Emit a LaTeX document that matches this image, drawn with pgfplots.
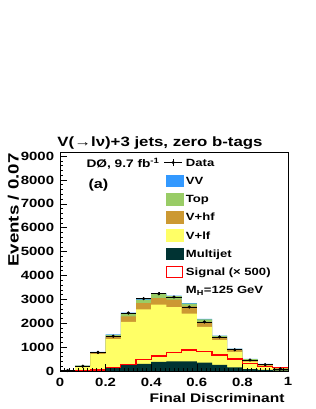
\documentclass[border=0pt]{standalone}
\usepackage{fontspec}
\setmainfont{Liberation Sans}[FakeStretch=1.25]
\usepackage{pgfplots}
\usepackage{pgfplotstable}
\pgfplotsset{compat=1.18}
\definecolor{vvblue}{HTML}{3399FF}
\definecolor{topgreen}{HTML}{99CC66}
\definecolor{hfbrown}{HTML}{CC9933}
\definecolor{lfyellow}{HTML}{FFFF66}
\definecolor{mjdark}{HTML}{003333}

\pgfplotstableread{
x mj lf hf top vv sig
0.000000 5 13 2 2 1 3
0.066667 10 180 20 15 5 10
0.133333 30 678 52 30 10 45
0.200000 120 1213 125 56 16 140
0.266667 250 1805 235 113 37 280
0.333333 300 2283 264 139 34 487
0.400000 380 2398 277 181 24 630
0.466667 400 2280 306 153 21 770
0.533333 400 2003 300 116 21 875
0.600000 350 1497 208 112 18 830
0.666667 260 1032 111 69 13 667
0.733333 150 656 69 55 10 500
0.800000 80 309 55 56 5 320
0.866667 50 172 28 40 5 195
0.933333 30 53 28 28 3 145
1.000000 30 53 28 28 3 145
}\bins

\pgfplotstableread{
x y ex ey
0.033333 20 0.033333 5
0.100000 200 0.033333 14
0.166667 780 0.033333 28
0.233333 1460 0.033333 38
0.300000 2430 0.033333 49
0.366667 3030 0.033333 55
0.433333 3235 0.033333 57
0.500000 3100 0.033333 56
0.566667 2680 0.033333 52
0.633333 2055 0.033333 45
0.700000 1430 0.033333 38
0.766667 890 0.033333 30
0.833333 460 0.033333 21
0.900000 265 0.033333 16
0.966667 90 0.033333 9
}\datatab

\begin{document}
\begin{tikzpicture}[font=\bfseries]
\path[use as bounding box] (0,0) rectangle (316bp,409bp);
\begin{axis}[
  at={(60bp,38bp)}, anchor=south west,
  scale only axis, width=228bp, height=218.5bp,
  xmin=0, xmax=1, ymin=0, ymax=9150,
  axis on top,
  axis line style={line width=0.7bp, black},
  tick align=inside, tick pos=left,
  major tick length=6.8bp, minor tick length=3.4bp,
  every tick/.style={black, line width=0.6bp},
  xtick={0,0.2,0.4,0.6,0.8,1}, minor x tick num=9,
  ytick={0,1000,2000,3000,4000,5000,6000,7000,8000,9000}, minor y tick num=4,
  scaled x ticks=false, scaled y ticks=false,
  /pgf/number format/assume math mode=true,
  /pgf/number format/1000 sep={},
  tick label style={font=\fontsize{12}{14}\selectfont\bfseries},
  xticklabel style={inner sep=0pt, yshift=-6.5bp},
  yticklabel style={inner sep=0pt, xshift=-5.7bp},
  every axis title/.style={at={(axis description cs:0.4386,1)}, anchor=base, yshift=6.5bp, font=\fontsize{13.5}{15}\selectfont\bfseries},
  title={V(→lν)+3 jets, zero b-tags},
  every axis x label/.style={at={(axis description cs:1,-0.1419)}, anchor=base east, font=\fontsize{12.5}{14}\selectfont\bfseries},
  xlabel={Final Discriminant},
  every axis y label/.style={at={(axis description cs:-0.182,1.0114)}, rotate=90, anchor=base east, font=\fontsize{15}{17}\selectfont\bfseries},
  ylabel={Events / 0.07},
  legend cell align=left,
  legend style={at={(axis description cs:0.456,0.981)}, anchor=north west,
    draw=none, fill=none, inner sep=0pt, outer sep=0pt, row sep=6.2bp,
    font=\fontsize{10.5}{12}\selectfont\bfseries,
    nodes={inner sep=0pt, text height=7.4bp, text depth=0bp},
    /tikz/every odd column/.append style={column sep=2.3bp}},
]
\addplot[fill=vvblue, draw=none, const plot mark left, forget plot]
  table[x=x, y expr=\thisrow{mj}+\thisrow{lf}+\thisrow{hf}+\thisrow{top}+\thisrow{vv}] {\bins} \closedcycle;
\addplot[fill=topgreen, draw=none, const plot mark left, forget plot]
  table[x=x, y expr=\thisrow{mj}+\thisrow{lf}+\thisrow{hf}+\thisrow{top}] {\bins} \closedcycle;
\addplot[fill=hfbrown, draw=none, const plot mark left, forget plot]
  table[x=x, y expr=\thisrow{mj}+\thisrow{lf}+\thisrow{hf}] {\bins} \closedcycle;
\addplot[fill=lfyellow, draw=none, const plot mark left, forget plot]
  table[x=x, y expr=\thisrow{mj}+\thisrow{lf}] {\bins} \closedcycle;
\addplot[fill=mjdark, draw=none, const plot mark left, forget plot]
  table[x=x, y=mj] {\bins} \closedcycle;
\addplot[red, line width=1.3bp, const plot mark left, forget plot]
  table[x=x, y=sig] {\bins};
\addplot[black, only marks, mark=*, mark size=1.4bp, forget plot,
  error bars/.cd, x dir=both, x explicit, y dir=both, y explicit,
  error mark=none, error bar style={line width=0.6bp, black}]
  table[x=x, y=y, x error=ex, y error=ey] {\datatab};

\addlegendimage{legend image code/.code={
  \path[draw=none, fill=none] (0bp,-5.85bp) rectangle (17.7bp,5.85bp);
  \draw[black, line width=0.6bp] (-1.5bp,0bp)--(16.5bp,0bp);
  \draw[black, line width=0.6bp] (7.5bp,-3.5bp)--(7.5bp,3.5bp);
  \fill[black] (7.5bp,0bp) circle (1.4bp);}}
\addlegendentry{Data}
\addlegendimage{legend image code/.code={\fill[vvblue] (0bp,-5.85bp) rectangle (17.7bp,5.85bp);}}
\addlegendentry{VV}
\addlegendimage{legend image code/.code={\fill[topgreen] (0bp,-5.85bp) rectangle (17.7bp,5.85bp);}}
\addlegendentry{Top}
\addlegendimage{legend image code/.code={\fill[hfbrown] (0bp,-5.85bp) rectangle (17.7bp,5.85bp);}}
\addlegendentry{V+hf}
\addlegendimage{legend image code/.code={\fill[lfyellow] (0bp,-5.85bp) rectangle (17.7bp,5.85bp);}}
\addlegendentry{V+lf}
\addlegendimage{legend image code/.code={\fill[mjdark] (0bp,-5.85bp) rectangle (17.7bp,5.85bp);}}
\addlegendentry{Multijet}
\addlegendimage{legend image code/.code={\draw[red, line width=1.2bp, fill=white] (0.6bp,-5.25bp) rectangle (17.1bp,5.25bp);}}
\addlegendentry{Signal (× 500)}
\addlegendimage{legend image code/.code={\path[draw=none, fill=none] (0bp,-6.5bp) rectangle (17.7bp,5.85bp);}}
\addlegendentry{M\textsubscript{H}=125 GeV}

\node[anchor=base west, font=\fontsize{11}{13}\selectfont\bfseries] at (axis description cs:0.1009,0.9336) {DØ, 9.7 fb\textsuperscript{-1}};
\node[anchor=base west, font=\fontsize{13}{15}\selectfont\bfseries] at (axis description cs:0.1096,0.833) {(a)};
\end{axis}
\end{tikzpicture}
\end{document}
